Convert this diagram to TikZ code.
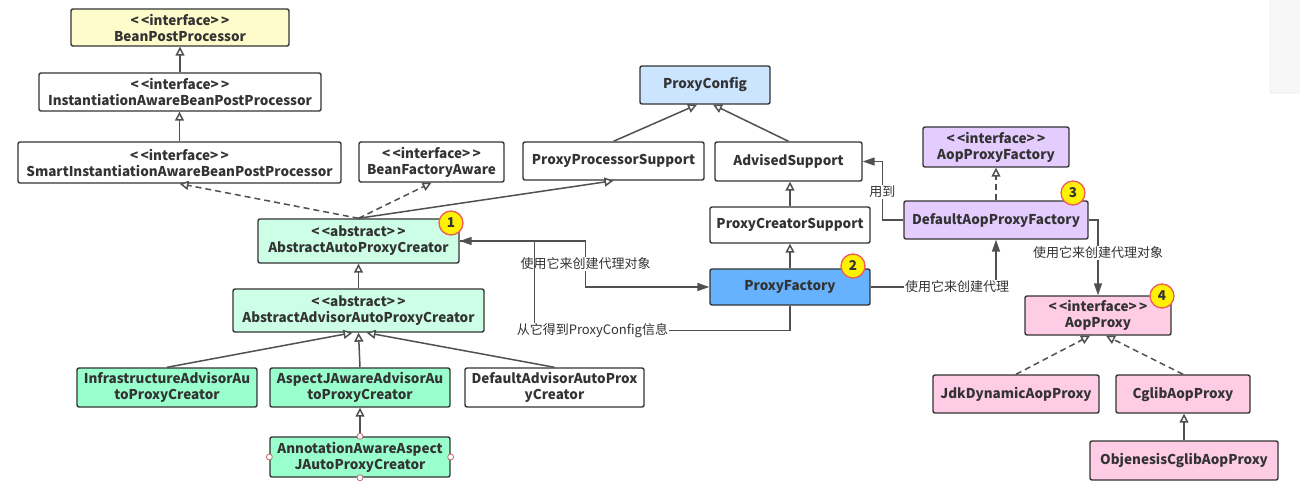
\documentclass[tikz,border=0pt]{standalone}
\usepackage{fontspec}
\setmainfont{Noto Sans CJK SC}
\usepackage{tikz}
\usetikzlibrary{arrows.meta,calc}
\definecolor{umlLine}{RGB}{80,80,80}
\definecolor{umlText}{RGB}{51,51,51}
\definecolor{umlYellow}{RGB}{255,252,204}
\definecolor{umlMint}{RGB}{204,255,230}
\definecolor{umlGreen}{RGB}{153,255,204}
\definecolor{umlSky}{RGB}{204,229,255}
\definecolor{umlBlue}{RGB}{102,178,255}
\definecolor{umlLilac}{RGB}{229,204,255}
\definecolor{umlPink}{RGB}{255,204,230}
\definecolor{badgeRed}{RGB}{240,90,90}
\definecolor{handleRed}{RGB}{190,110,110}
\newcommand{\stereo}[1]{<\,<#1>\,>}

\begin{document}
\begin{tikzpicture}[
  x=1pt, y=-1pt,
  font=\fontsize{13.5}{16}\selectfont\bfseries,
  cls/.style={draw=umlText, line width=1.4pt, rounded corners=2pt, fill=white,
              text=umlText, align=center, inner sep=0pt},
  sz/.style 2 args={minimum width=#1, minimum height=#2},
  iface/.style={cls, fill=umlYellow},
  abst/.style={cls, fill=umlMint},
  impl/.style={cls, fill=umlGreen},
  cfg/.style={cls, fill=umlSky},
  fac/.style={cls, fill=umlBlue},
  aopf/.style={cls, fill=umlLilac},
  aop/.style={cls, fill=umlPink},
  badge/.style={circle, fill=yellow, draw=badgeRed, line width=1.3pt, minimum size=24,
                inner sep=0pt, text=umlText},
  lbl/.style={fill=white, font=\fontsize{13}{15}\selectfont, text=umlText, inner sep=1pt},
  inh/.style={draw=umlLine, line width=1.5pt, -{Triangle[open, length=9pt, width=9pt, fill=white]}},
  real/.style={inh, dash pattern=on 6pt off 4pt},
  use/.style={draw=umlLine, line width=1.5pt, -{Triangle[length=12pt, width=8pt]}},
  handle/.style={draw=handleRed, fill=white, line width=0.8pt}
]
\useasboundingbox (0,0) rectangle (1300,495);

\node[iface, sz={218}{37}] (bpp) at (180,27.5) {\stereo{interface}\\BeanPostProcessor};
\node[cls, sz={282}{38}] (iabpp) at (180,92) {\stereo{interface}\\InstantiationAwareBeanPostProcessor};
\node[cls, sz={323}{41}] (siabpp) at (179.5,162.5) {\stereo{interface}\\SmartInstantiationAwareBeanPostProcessor};
\node[cls, sz={145}{40}] (bfa) at (431.5,162) {\stereo{interface}\\BeanFactoryAware};
\node[cls, sz={181}{38}] (pps) at (613.5,161) {ProxyProcessorSupport};
\node[cfg, sz={130}{38}] (pcfg) at (705,85) {ProxyConfig};
\node[cls, sz={147}{39}] (advs) at (788.5,161.5) {AdvisedSupport};
\node[cls, sz={160}{36}] (pcs) at (790,225) {ProxyCreatorSupport};
\node[fac, sz={160}{36}] (pf) at (790,287) {ProxyFactory};

\node[abst, sz={201}{44}] (aapc) at (358.5,241) {\stereo{abstract}\\AbstractAutoProxyCreator};
\node[abst, sz={251}{43}] (aaapc) at (358.5,310.5) {\stereo{abstract}\\AbstractAdvisorAutoProxyCreator};
\node[impl, sz={180}{39}] (iaapc) at (167,387.5) {InfrastructureAdvisorAu\\toProxyCreator};
\node[impl, sz={180}{39}] (ajaapc) at (360,387.5) {AspectJAwareAdvisorAu\\toProxyCreator};
\node[cls, sz={179}{39}] (daapc) at (554.5,387.5) {DefaultAdvisorAutoProx\\yCreator};
\node[impl, sz={180}{40}] (anno) at (360,457) {AnnotationAwareAspect\\JAutoProxyCreator};

\node[aopf, sz={146}{40}] (apf) at (996,147) {\stereo{interface}\\AopProxyFactory};
\node[aopf, sz={184}{38}] (dapf) at (996,220) {DefaultAopProxyFactory};
\node[aop, sz={146}{39}] (ap) at (1098,315.5) {\stereo{interface}\\AopProxy};
\node[aop, sz={166}{38}] (jdk) at (1016,394) {JdkDynamicAopProxy};
\node[aop, sz={134}{38}] (cglib) at (1183,394) {CglibAopProxy};
\node[aop, sz={188}{39}] (objn) at (1184,460.5) {ObjenesisCglibAopProxy};

\foreach \a/\b in {iabpp/bpp, siabpp/iabpp, pcs/advs, pf/pcs, aaapc/aapc, anno/ajaapc, objn/cglib}
  \draw[inh] (\a.north) -- (\a.north |- \b.south);

\draw[inh] (ajaapc.north) -- (aaapc.south);
\draw[inh] (iaapc.north) -- ($(aaapc.south)+(-6,0)$);
\draw[inh] (daapc.north) -- ($(aaapc.south)+(8,0)$);
\draw[inh] (pps.north) -- ($(pcfg.south)+(-8,0)$);
\draw[inh] (advs.north) -- ($(pcfg.south)+(8,0)$);
\draw[inh] (aapc.north) -- (pps.south);
\draw[real] (aapc.north) -- (siabpp.south);
\draw[real] (aapc.north) -- (bfa.south);
\draw[real] (dapf.north) -- (apf.south);
\draw[real] (jdk.north) -- ($(ap.south)+(-8,0)$);
\draw[real] (cglib.north) -- ($(ap.south)+(8,0)$);

\draw[use] (aapc.east) -- ++(126,0) |- node[lbl, pos=0.25] {使用它来创建代理对象} (pf.west);
\draw[use] (pf.south) -- ++(0,25) -| node[lbl, pos=0.387] {从它得到ProxyConfig信息} ($(aapc.east)+(75,0)$) -- (aapc.east);
\draw[use] (pf.east) -| node[lbl, pos=0.345] {使用它来创建代理} (dapf.south);
\draw[use] (dapf.west) -- ++(-21,0) |- node[lbl, pos=0.24] {用到} (advs.east);
\draw[use] (dapf.east) -| node[lbl, pos=0.717] {使用它来创建代理对象} (ap.north);

\node[badge] (n1) at (451,223) {1};
\node[badge] (n2) at (853,266) {2};
\node[badge] (n3) at (1073,193) {3};
\node[badge] (n4) at (1162,296) {4};

\foreach \s in {north,south,east,west}
  \draw[handle] (anno.\s) circle (3);

\draw[draw=black!15, fill=black!3, rounded corners=2pt] (1270,-5) rectangle (1310,93);

\end{tikzpicture}
\end{document}
